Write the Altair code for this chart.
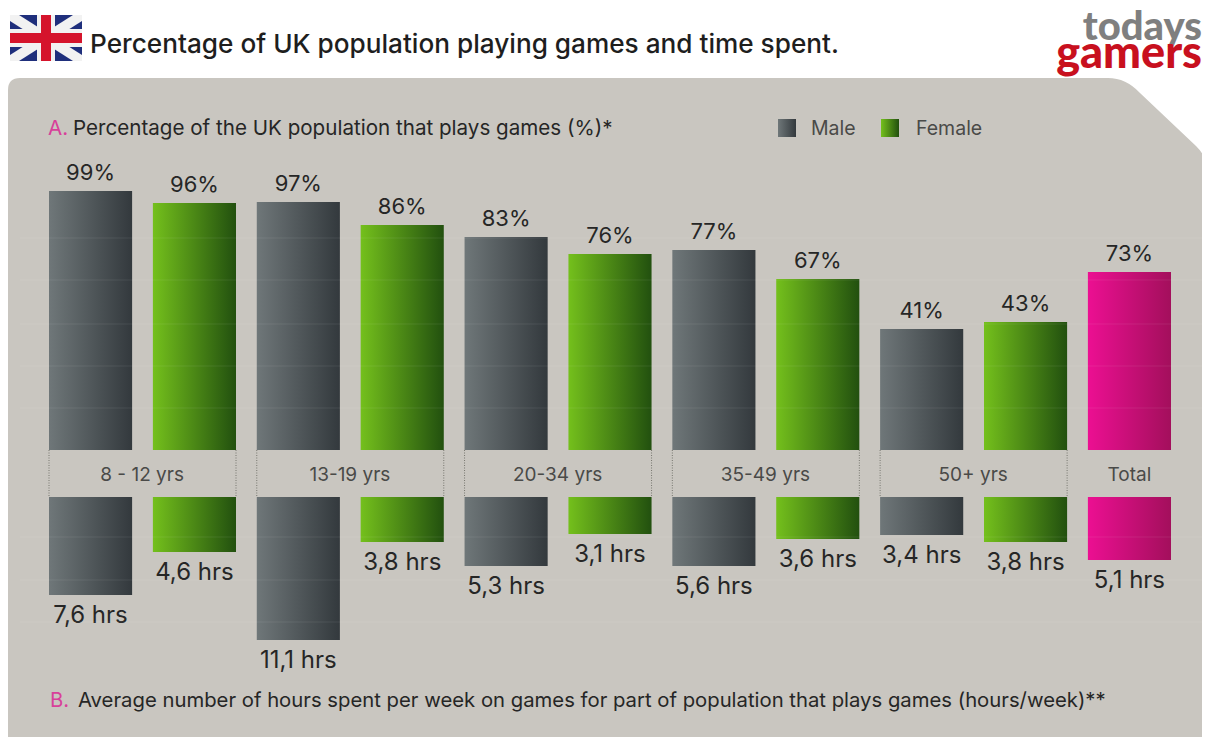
import altair as alt
import pandas as pd

groups = ["8 - 12 yrs", "13-19 yrs", "20-34 yrs", "35-49 yrs", "50+ yrs"]
series = ["Male", "Female"] * 5 + ["Total"]
ages = [g for g in groups for _ in (0, 1)] + ["Total"]
pct = [99, 96, 97, 86, 83, 76, 77, 67, 41, 43, 73]
hours = [7.6, 4.6, 11.1, 3.8, 5.3, 3.1, 5.6, 3.6, 3.4, 3.8, 5.1]
pct_text = ["99%", "96%", "97%", "86%", "83%", "76%", "77%", "67%", "41%", "43%", "73%"]
hour_text = ["7,6 hrs", "4,6 hrs", "11,1 hrs", "3,8 hrs", "5,3 hrs", "3,1 hrs",
             "5,6 hrs", "3,6 hrs", "3,4 hrs", "3,8 hrs", "5,1 hrs"]

# The source bars are not drawn to one linear scale; the scales follow the drawn bar lengths.
pct_stops = [0, 41, 43, 67, 73, 76, 77, 83, 86, 96, 97, 99]
pct_lengths = [0, 121, 128, 171, 178, 196, 200, 213, 225, 247, 248, 259]
hour_stops = [0, 3.1, 3.4, 3.6, 3.8, 4.6, 5.1, 5.3, 5.6, 7.6, 11.1]
hour_lengths = [0, 37, 38, 42, 45, 55, 63, 69, 69, 98, 143]

FONT = "Inter"
INK = "#262626"
SOFT = "#4a4a48"
PINK = "#d8409a"
PANEL = "#c9c6c0"

df = pd.DataFrame({
    "id": [f"{a} {s}" for a, s in zip(ages, series)],
    "series": series,
    "pct": pct,
    "hours": hours,
    "pct_text": pct_text,
    "hour_text": hour_text,
})
order = df["id"].tolist()
x_scale = alt.Scale(domain=order, range=[41, 1163], paddingInner=0.2, paddingOuter=0, round=False)
x = alt.X("id:N", sort=order, axis=None, scale=x_scale)
top_y = alt.Y("pct:Q", axis=None,
              scale=alt.Scale(domain=pct_stops, range=[442 - v for v in pct_lengths], nice=False))
low_y = alt.Y("hours:Q", axis=None,
              scale=alt.Scale(domain=hour_stops, range=[489 + v for v in hour_lengths], nice=False))


def grad(left, right):
    return alt.LinearGradient(gradient="linear", x1=0, y1=0, x2=1, y2=0,
                              stops=[alt.GradientStop(offset=0, color=left),
                                     alt.GradientStop(offset=1, color=right)])


fills = {"Male": grad("#6f7779", "#33393d"),
         "Female": grad("#74c01c", "#22500f"),
         "Total": grad("#ec0f92", "#a30f5c")}

layers = []


def shape_layer(path_px, color, cx, cy, r):
    path = ""
    for item in path_px:
        if isinstance(item, str):
            path += item
        else:
            path += f"{(item[0] - cx) / r:.5f},{(item[1] - cy) / r:.5f} "
    return alt.Chart(pd.DataFrame({"k": [0]})).mark_point(
        shape=path, size=(2 * r) ** 2, filled=True, color=color, opacity=1, strokeWidth=0
    ).encode(x=alt.value(cx), y=alt.value(cy))


# panel, coordinates relative to the chart origin
layers.append(shape_layer(
    ["M", (0, 82), "Q", (0, 70), "", (12, 70), "L", (1100, 70),
     "Q", (1118, 70), "", (1132, 85), "L", (1188, 138),
     "Q", (1202, 152), "", (1202, 172), "L", (1202, 729), "L", (0, 729), "Z"],
    PANEL, 601, 400, 601))

# flag
fx0, fx1, fy0, fy1 = 2, 74, 7, 53
fcx, fcy = 38, 30
flag = [
    ("#1f2f7c", ["M", (fx0, fy0), "L", (fx1, fy0), "L", (fx1, fy1), "L", (fx0, fy1), "Z"]),
    ("#f2f2f2", ["M", (fx0, fy0), "L", (fx0 + 9, fy0), "L", (fx1, fy1 - 6), "L", (fx1, fy1), "L", (fx1 - 9, fy1),
                 "L", (fx0, fy0 + 6), "Z"]),
    ("#f2f2f2", ["M", (fx1, fy0), "L", (fx1 - 9, fy0), "L", (fx0, fy1 - 6), "L", (fx0, fy1), "L", (fx0 + 9, fy1),
                 "L", (fx1, fy0 + 6), "Z"]),
    ("#f2f2f2", ["M", (fcx - 9, fy0), "L", (fcx + 9, fy0), "L", (fcx + 9, fcy - 9), "L", (fx1, fcy - 9),
                 "L", (fx1, fcy + 9), "L", (fcx + 9, fcy + 9), "L", (fcx + 9, fy1), "L", (fcx - 9, fy1),
                 "L", (fcx - 9, fcy + 9), "L", (fx0, fcy + 9), "L", (fx0, fcy - 9), "L", (fcx - 9, fcy - 9), "Z"]),
    ("#d5142c", ["M", (fcx - 5, fy0), "L", (fcx + 5, fy0), "L", (fcx + 5, fcy - 5), "L", (fx1, fcy - 5),
                 "L", (fx1, fcy + 5), "L", (fcx + 5, fcy + 5), "L", (fcx + 5, fy1), "L", (fcx - 5, fy1),
                 "L", (fcx - 5, fcy + 5), "L", (fx0, fcy + 5), "L", (fx0, fcy - 5), "L", (fcx - 5, fcy - 5), "Z"]),
]
for colour, p in flag:
    layers.append(shape_layer(p, colour, fcx, fcy, 37))


def text(x_px, y_px, s, size, color=INK, weight=400, font=FONT, align="left"):
    return alt.Chart(pd.DataFrame({"t": [s]})).mark_text(
        align=align, baseline="middle", fontSize=size, color=color, fontWeight=weight, font=font
    ).encode(x=alt.value(x_px), y=alt.value(y_px), text="t:N")


layers += [
    text(82, 37, "Percentage of UK population playing games and time spent.", 26.2, "#1e1e1e", 500),
    text(1194, 20, "todays", 40, "#7f7f7f", 900, "Lato", "right"),
    text(1194, 46, "gamers", 45, "#c8101e", 900, "Lato", "right"),
    text(40, 121, "A.", 20.6, PINK),
    text(65, 121, "Percentage of the UK population that plays games (%)*", 20.6, INK),
    text(42, 693, "B.", 20.3, PINK),
    text(70, 693, "Average number of hours spent per week on games for part of population that plays games (hours/week)**",
         20.3, INK),
    text(803, 121, "Male", 19.5, SOFT),
    text(908, 121, "Female", 19.5, SOFT),
]
for lx, who in ((770, "Male"), (873, "Female")):
    layers.append(alt.Chart(pd.DataFrame({"k": [0]})).mark_rect(color=fills[who]).encode(
        x=alt.value(lx), x2=alt.value(lx + 18), y=alt.value(111), y2=alt.value(129)))

# dotted group brackets
pairs = pd.DataFrame({"first": order[0:10:2], "second": order[1:10:2], "label": groups})
for field, pos in (("first", 0), ("second", 1)):
    layers.append(alt.Chart(pairs).mark_rule(color="#77766f", strokeDash=[1, 1.5], strokeWidth=1).encode(
        x=alt.X(f"{field}:N", sort=order, axis=None, bandPosition=pos, scale=x_scale),
        y=alt.value(442), y2=alt.value(489)))

layers.append(alt.Chart(pairs).mark_text(fontSize=19, color=SOFT, font=FONT, baseline="middle", dx=10).encode(
    x=alt.X("first:N", sort=order, axis=None, bandPosition=1, scale=x_scale),
    y=alt.value(467), text="label:N"))
layers.append(alt.Chart(pd.DataFrame({"id": [order[-1]], "label": ["Total"]})).mark_text(
    fontSize=19, color=SOFT, font=FONT, baseline="middle").encode(
    x=x, y=alt.value(467), text="label:N"))

# bars
for who in ("Male", "Female", "Total"):
    sub = df[df["series"] == who]
    layers.append(alt.Chart(sub).mark_bar(color=fills[who]).encode(x=x, y=top_y))
    layers.append(alt.Chart(sub).mark_bar(color=fills[who]).encode(x=x, y=low_y))

layers.append(alt.Chart(df).mark_text(fontSize=22, color=INK, font=FONT, baseline="middle", dy=-18).encode(
    x=x, y=top_y, text="pct_text:N"))
layers.append(alt.Chart(df).mark_text(fontSize=24, color=INK, font=FONT, baseline="middle", dy=21).encode(
    x=x, y=low_y, text="hour_text:N"))

# faint horizontal banding of the source picture
for band_y in (230, 272, 316, 358, 400, 529, 572, 614):
    layers.append(alt.Chart(pd.DataFrame({"k": [0]})).mark_rule(color="white", opacity=0.08, strokeWidth=1).encode(
        x=alt.value(12), x2=alt.value(1194), y=alt.value(band_y)))

chart = alt.layer(*layers).resolve_scale(y="independent").properties(
    width=1194, height=729, padding=0,
    autosize=alt.AutoSizeParams(type="none", contains="content"),
    background="white",
).configure_view(stroke=None)

chart.save("out.html", embed_options={"renderer": "svg", "actions": False})
